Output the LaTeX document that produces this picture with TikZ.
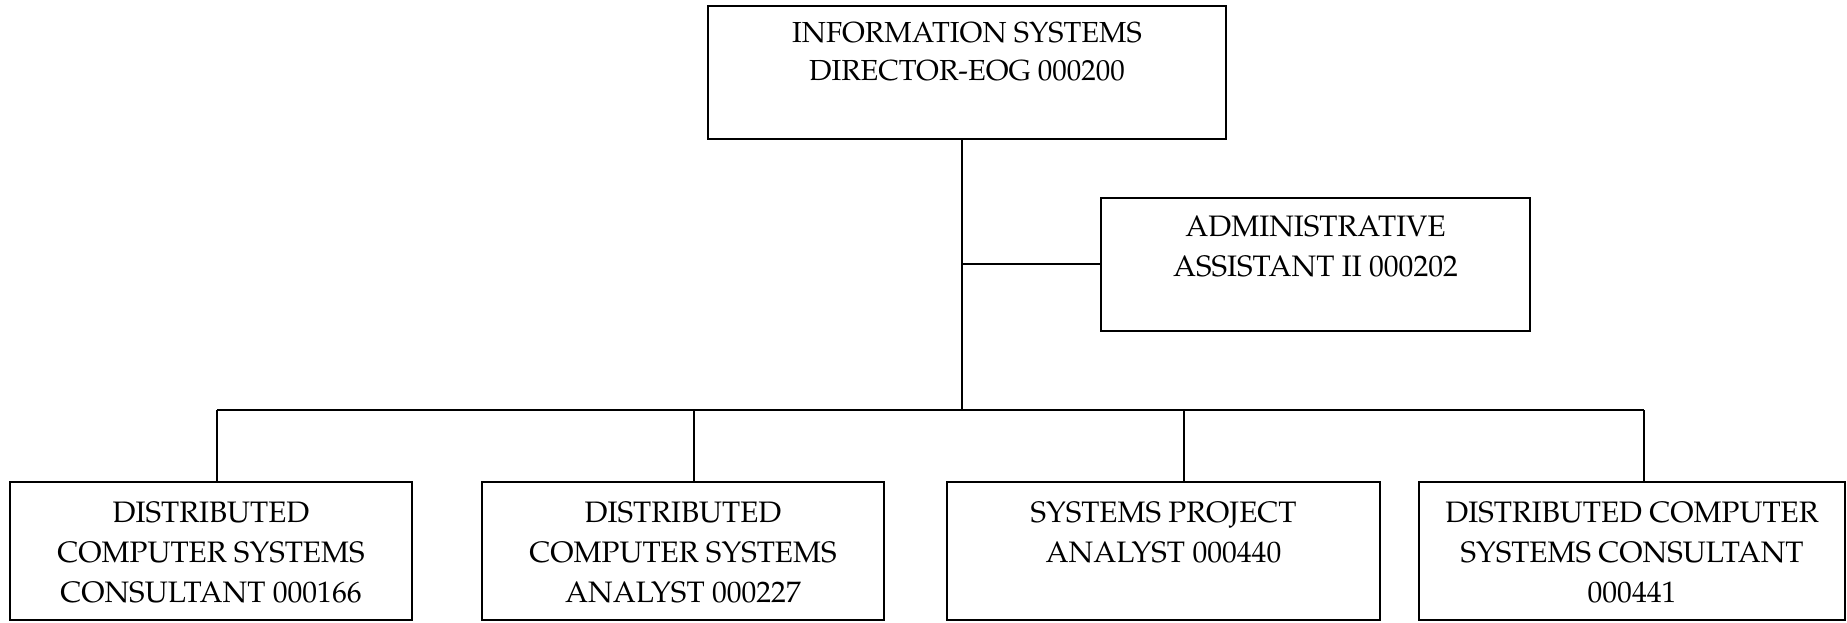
\documentclass[tikz,border=0pt]{standalone}
\usepackage[T1]{fontenc}
\usepackage{mathpazo}
\begin{document}
\begin{tikzpicture}[x=0.5pt, y=-0.5pt,
  box/.style={draw=black, line width=1pt, inner sep=0pt, rectangle},
  lbl/.style={anchor=north, inner sep=0pt, align=center,
    font=\fontsize{14.8pt}{20pt}\selectfont},
  toplbl/.style={lbl, font=\fontsize{14.5pt}{19pt}\selectfont},
  link/.style={draw=black, line width=1pt}]
\useasboundingbox (0,0) rectangle (1847,622);

% boxes
\node[box, minimum width=259pt, minimum height=66.5pt] (dir) at (967,72.5) {};
\node[box, minimum width=214.5pt, minimum height=66.5pt] (adm) at (1315.5,264) {};
\node[box, minimum width=201pt, minimum height=69pt] (b1) at (211,551) {};
\node[box, minimum width=201pt, minimum height=69pt] (b2) at (683,551) {};
\node[box, minimum width=216.5pt, minimum height=69pt] (b3) at (1163.5,551) {};
\node[box, minimum width=213pt, minimum height=69pt] (b4) at (1632,551) {};

% titles
\node[toplbl] (tdir) at ([yshift=-8.5pt]dir.north) {INFORMATION SYSTEMS\\DIRECTOR-EOG 000200};
\node[lbl] (tadm) at ([yshift=-9.75pt]adm.north) {ADMINISTRATIVE\\ASSISTANT II 000202};
\node[lbl] (tb1) at ([yshift=-10.25pt]b1.north) {DISTRIBUTED\\COMPUTER SYSTEMS\\CONSULTANT 000166};
\node[lbl] (tb2) at ([yshift=-10.25pt]b2.north) {DISTRIBUTED\\COMPUTER SYSTEMS\\ANALYST 000227};
\node[lbl] (tb3) at ([yshift=-10.25pt]b3.north) {SYSTEMS PROJECT\\ANALYST 000440};
\node[lbl] (tb4) at ([yshift=-10.25pt]b4.north) {DISTRIBUTED COMPUTER\\SYSTEMS CONSULTANT\\000441};

% connector points
\coordinate (spine) at (962,410);
\coordinate (d1) at (217,410);
\coordinate (d2) at (694,410);
\coordinate (d3) at (1184,410);
\coordinate (d4) at (1643.5,410);

% connectors
\draw[link] (dir.south -| spine) -- (spine);
\draw[link] (spine |- adm.west) -- (adm.west);
\draw[link] (d1) -- (d4);
\draw[link] (d1) -- (d1 |- b1.north);
\draw[link] (d2) -- (d2 |- b2.north);
\draw[link] (d3) -- (d3 |- b3.north);
\draw[link] (d4) -- (d4 |- b4.north);
\end{tikzpicture}
\end{document}
